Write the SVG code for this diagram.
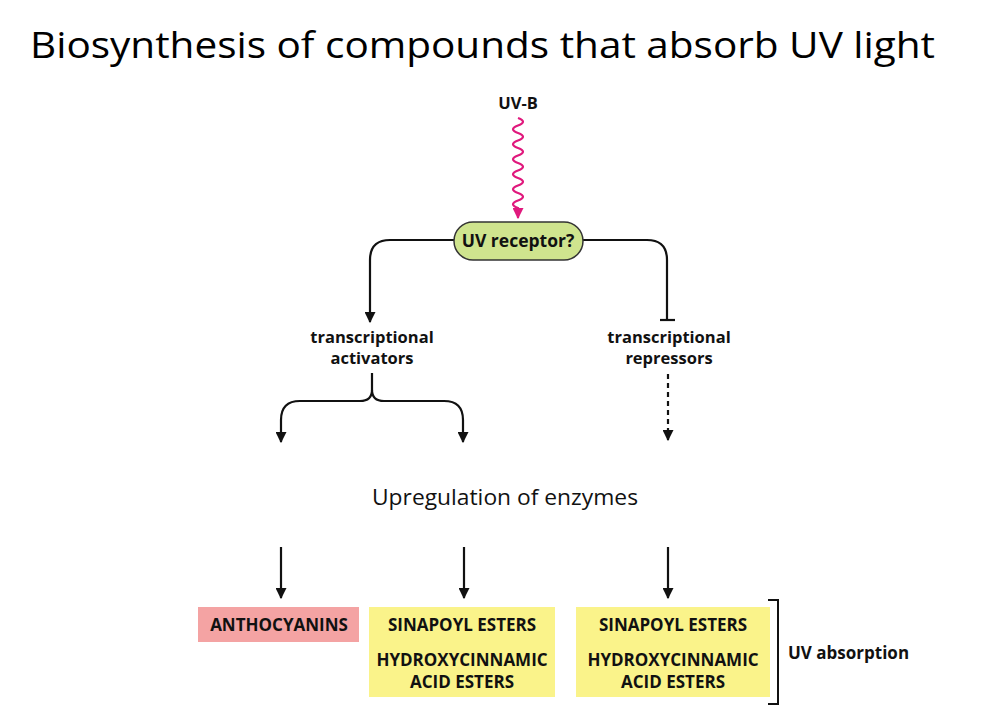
<svg xmlns="http://www.w3.org/2000/svg" width="1000" height="705" viewBox="0 0 1000 705">
<style>
.b{font-family:"Open Sans","Liberation Sans",sans-serif;font-weight:bold;font-size:16.5px;fill:#111;text-anchor:middle}
.ln{fill:none;stroke:#111;stroke-width:2.2}
.box{font-family:"Open Sans","Liberation Sans",sans-serif;font-weight:bold;font-size:17px;fill:#111;text-anchor:middle}
</style>
<defs>
<marker id="ah" viewBox="0 0 10 10" refX="9" refY="5" markerWidth="5" markerHeight="5" orient="auto" markerUnits="strokeWidth"><path d="M0,0 L10,5 L0,10 z" fill="#111"/></marker>
<marker id="ahm" viewBox="0 0 10 10" refX="9" refY="5" markerWidth="5" markerHeight="5" orient="auto" markerUnits="strokeWidth"><path d="M0,0 L10,5 L0,10 z" fill="#e0197d"/></marker>
</defs>
<rect width="1000" height="705" fill="#fff"/>
<text x="30" y="58" font-family="Open Sans, Liberation Sans, sans-serif" font-size="37" fill="#000" textLength="905" lengthAdjust="spacingAndGlyphs">Biosynthesis of compounds that absorb UV light</text>
<g id="uvb"><text class="b" x="518" y="109">UV-B</text></g>
<g id="connectors">
<path d="M518,118 q10,3.75 0,7.5 q-10,3.75 0,7.5 q10,3.75 0,7.5 q-10,3.75 0,7.5 q10,3.75 0,7.5 q-10,3.75 0,7.5 q10,3.75 0,7.5 q-10,3.75 0,7.5 q10,3.75 0,7.5 q-10,3.75 0,7.5 q10,3.75 0,7.5 q-10,3.75 0,7.5 l0,10" fill="none" stroke="#e0197d" stroke-width="2.2" marker-end="url(#ahm)"/>
<path class="ln" d="M454,240 L390,240 Q370,240 370,260 L370,322" marker-end="url(#ah)"/>
<path class="ln" d="M583,240 L647,240 Q667,240 667,260 L667,319"/>
<path class="ln" d="M660,320 L675,320"/>
<path class="ln" d="M372,373 L372,390 Q372,401 360,401 L300,401 Q281,401 281,420 L281,442" marker-end="url(#ah)"/>
<path class="ln" d="M372,390 Q372,401 384,401 L444,401 Q463,401 463,420 L463,442" marker-end="url(#ah)"/>
<path class="ln" d="M668,374 L668,440" stroke-dasharray="5,4" marker-end="url(#ah)"/>
<path class="ln" d="M281,547 L281,598" marker-end="url(#ah)"/>
<path class="ln" d="M464,547 L464,598" marker-end="url(#ah)"/>
<path class="ln" d="M668,547 L668,598" marker-end="url(#ah)"/>
<path d="M768,600 L778,600 L778,704 L768,704" fill="none" stroke="#111" stroke-width="2"/>
</g>
<g id="receptor">
<rect x="454" y="222" width="129" height="38" rx="19" fill="#cfe48e" stroke="#333" stroke-width="1.5"/>
<text class="b" x="518" y="247" style="font-size:17.5px">UV receptor?</text>
</g>
<g id="activators"><text class="b" x="372" y="343">transcriptional</text><text class="b" x="372" y="364">activators</text></g>
<g id="repressors"><text class="b" x="669" y="343">transcriptional</text><text class="b" x="669" y="364">repressors</text></g>
<g id="upreg"><text x="372" y="505" font-family="Open Sans, Liberation Sans, sans-serif" font-size="21" fill="#111" textLength="266" lengthAdjust="spacingAndGlyphs">Upregulation of enzymes</text></g>
<g id="antho"><rect x="198" y="607" width="161" height="35" fill="#f4a3a3"/><text class="box" x="279" y="631">ANTHOCYANINS</text></g>
<g id="esters1"><rect x="369" y="607" width="186" height="90" fill="#faf38a"/><text class="box" x="462" y="631">SINAPOYL ESTERS</text><text class="box" x="462" y="666">HYDROXYCINNAMIC</text><text class="box" x="462" y="688">ACID ESTERS</text></g>
<g id="esters2"><rect x="576" y="607" width="194" height="90" fill="#faf38a"/><text class="box" x="673" y="631">SINAPOYL ESTERS</text><text class="box" x="673" y="666">HYDROXYCINNAMIC</text><text class="box" x="673" y="688">ACID ESTERS</text></g>
<g id="uvabs"><text class="b" x="788" y="659" style="text-anchor:start;font-size:17px">UV absorption</text></g>
</svg>
